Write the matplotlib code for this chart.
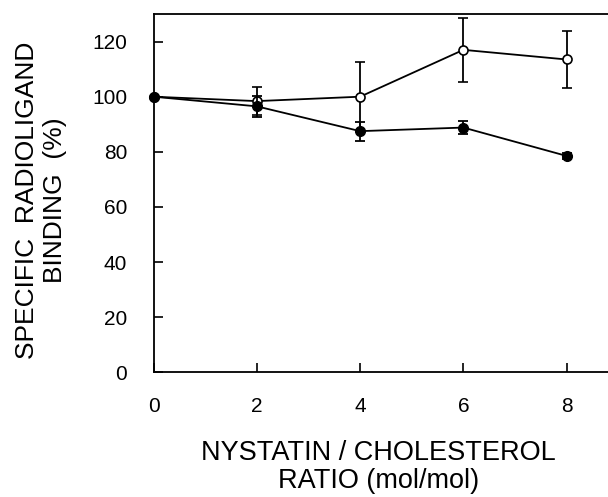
import numpy as np
import matplotlib
matplotlib.use("Agg")
import matplotlib.pyplot as plt

plt.rcParams['font.family'] = ['Liberation Sans', 'DejaVu Sans']

# ratio nystatin / cholesterol
ratio = [0, 2, 4, 6, 8]

# open circles
open_mean = [100, 98.4, 100, 117, 113.5]
open_err = [0, 5, 12.5, 11.7, 10.5]

# filled circles
filled_mean = [100, 96.5, 87.5, 88.8, 78.5]
filled_err = [0, 3.7, 3.4, 2.3, 1.0]

fig = plt.figure(figsize=(6.08, 4.97), dpi=100)
ax = fig.add_axes([0.2525, 0.2509, 0.7475, 0.7209])

lw = 1.3
ax.errorbar(ratio, open_mean, yerr=open_err, fmt='-o', color='black',
            mfc='white', mec='black', mew=1.2, ms=6.5, lw=lw,
            elinewidth=lw, capsize=3.8, capthick=lw, clip_on=False, zorder=3)
ax.errorbar(ratio, filled_mean, yerr=filled_err, fmt='-o', color='black',
            mfc='black', mec='black', ms=7, lw=lw,
            elinewidth=lw, capsize=3.8, capthick=lw, clip_on=False, zorder=4)

ax.set_xlim(0, 8.8)
ax.set_ylim(0, 130)
ax.set_xticks([0, 2, 4, 6, 8])
ax.set_yticks([0, 20, 40, 60, 80, 100, 120])

ax.spines['right'].set_visible(False)
for s in ['left', 'bottom', 'top']:
    ax.spines[s].set_linewidth(1.3)

ax.tick_params(axis='both', direction='in', length=6.5, width=1.2,
               labelsize=15)
ax.tick_params(axis='x', pad=18)
ax.tick_params(axis='y', pad=19)

fig.text(0.622, 0.0604, 'NYSTATIN / CHOLESTEROL\nRATIO (mol/mol)',
         ha='center', va='center', fontsize=19.5, linespacing=1.1)
fig.text(0.0674, 0.5976, 'SPECIFIC  RADIOLIGAND\nBINDING  (%)',
         ha='center', va='center', rotation=90, fontsize=19,
         linespacing=1.2)

fig.savefig('out.png', dpi=100)
